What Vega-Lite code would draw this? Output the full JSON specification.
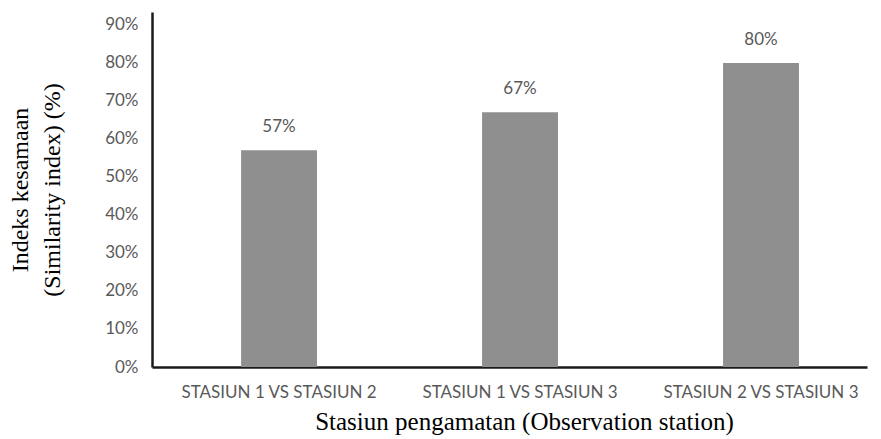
{
  "$schema": "https://vega.github.io/schema/vega-lite/v6.json",
  "width": 715,
  "height": 355,
  "autosize": "none",
  "padding": {"left": 152, "top": 12, "right": 14, "bottom": 72},
  "background": "white",
  "data": {
    "values": [
      {"pair": "STASIUN 1 VS STASIUN 2", "similarity": 0.57},
      {"pair": "STASIUN 1 VS STASIUN 3", "similarity": 0.67},
      {"pair": "STASIUN 2 VS STASIUN 3", "similarity": 0.80}
    ]
  },
  "encoding": {
    "x": {
      "field": "pair",
      "type": "nominal",
      "sort": null,
      "scale": {"paddingInner": 0.685, "paddingOuter": 0.326, "align": 0.567},
      "axis": {
        "title": "Stasiun pengamatan (Observation station)",
        "labelAngle": 0,
        "labelLimit": 0,
        "ticks": false,
        "labelPadding": 17,
        "titlePadding": 9,
        "titleX": 372,
        "titleFontSize": 25
      }
    },
    "y": {
      "field": "similarity",
      "type": "quantitative",
      "scale": {"domain": [0, 0.934], "nice": false},
      "axis": {
        "title": ["Indeks kesamaan", "(Similarity index) (%)"],
        "values": [0, 0.1, 0.2, 0.3, 0.4, 0.5, 0.6, 0.7, 0.8, 0.9],
        "format": ".0%",
        "grid": false,
        "ticks": false,
        "labelPadding": 14,
        "titlePadding": 40,
        "titleLineHeight": 32
      }
    }
  },
  "layer": [
    {"mark": {"type": "bar", "color": "#8f8f8f"}},
    {
      "mark": {"type": "text", "baseline": "bottom", "dy": -14, "font": "Lato", "fontSize": 17, "color": "#595959"},
      "encoding": {"text": {"field": "similarity", "type": "quantitative", "format": ".0%"}}
    }
  ],
  "config": {
    "view": {"stroke": null},
    "axis": {
      "domainColor": "#1a1a1a",
      "domainWidth": 2.5,
      "labelFont": "Lato",
      "labelFontSize": 17,
      "labelColor": "#595959",
      "titleFont": "Liberation Serif",
      "titleFontSize": 24,
      "titleFontWeight": "normal",
      "titleColor": "#000000"
    }
  }
}
